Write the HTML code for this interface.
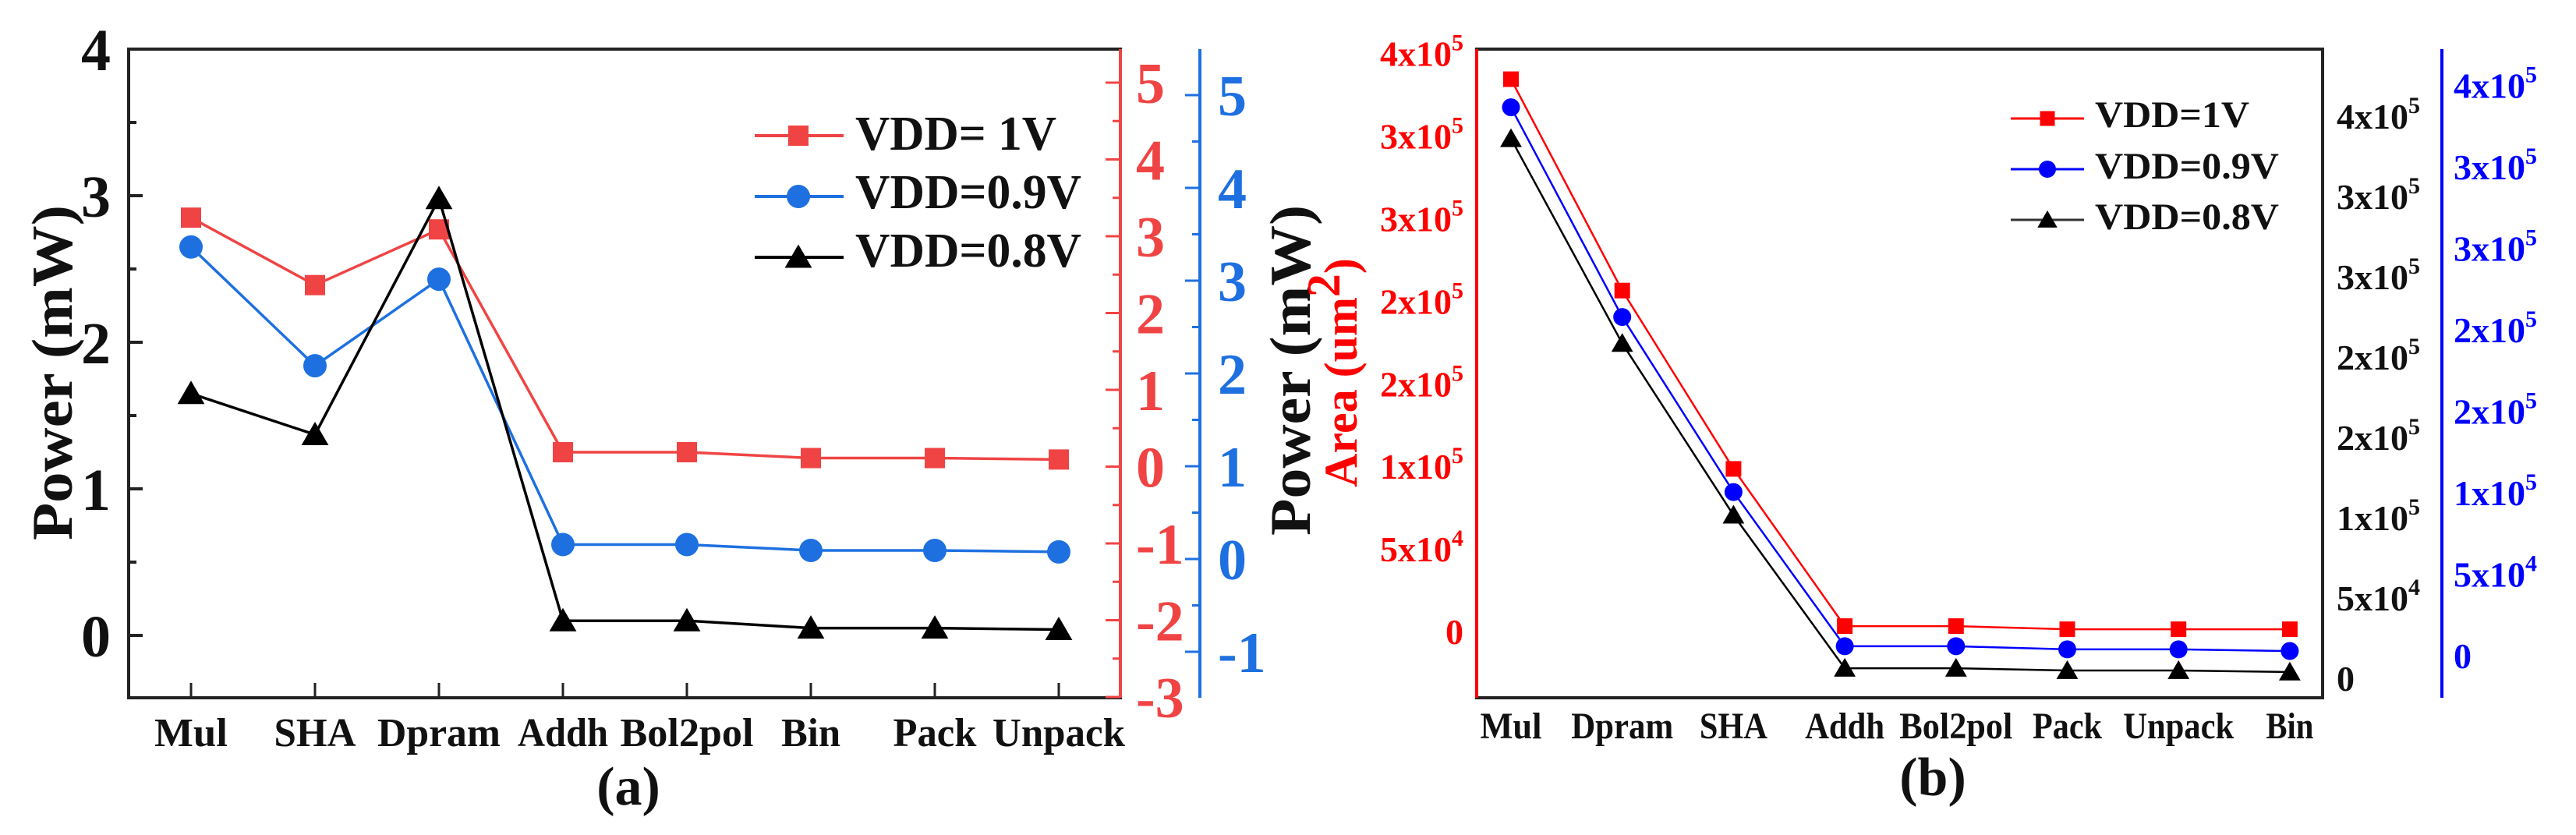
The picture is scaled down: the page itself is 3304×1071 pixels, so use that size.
<!DOCTYPE html>
<html><head><meta charset="utf-8"><style>
html,body{margin:0;padding:0;background:#fff;}
svg, svg text, svg tspan{font-family:"Liberation Serif","Times New Roman","DejaVu Serif",serif !important;font-weight:bold;}
</style></head><body>
<svg id="fig" width="3304" height="1066" viewBox="0 0 3304 1066" xmlns="http://www.w3.org/2000/svg" font-family="Liberation Serif, DejaVu Serif, serif" font-weight="bold">
<g id="pa"></g>
<g id="pb"></g>
</svg>
<script>
// ---------- Panel (a) data ----------
const catsA = ["Mul","SHA","Dpram","Addh","Bol2pol","Bin","Pack","Unpack"];
const powA1V = [2.85,2.39,2.77,1.25,1.25,1.21,1.21,1.20];
const powA09V = [2.65,1.84,2.43,0.62,0.62,0.58,0.58,0.57];
const powA08V = [1.65,1.37,2.98,0.10,0.10,0.05,0.05,0.04];
const leftTicksA = [0,1,2,3,4];
const redTicksA = [-3,-2,-1,0,1,2,3,4,5];
const blueTicksA = [-1,0,1,2,3,4,5];
// ---------- Panel (b) data ----------
const catsB = ["Mul","Dpram","SHA","Addh","Bol2pol","Pack","Unpack","Bin"];
const areaB1V = [334000,206000,98000,2800,2800,900,900,900];
const areaB09V = [317000,190000,84000,-9400,-9400,-11300,-11300,-12300];
const areaB08V = [298000,174000,70000,-22700,-22700,-24100,-24100,-25000];
const redTicksB = [0,50000,100000,150000,200000,250000,300000,350000];
const redLabelsB = [["0",""],["5x10","4"],["1x10","5"],["2x10","5"],["2x10","5"],["3x10","5"],["3x10","5"],["4x10","5"]];
const blackLabelsB = [["0",""],["5x10","4"],["1x10","5"],["2x10","5"],["2x10","5"],["3x10","5"],["3x10","5"],["4x10","5"]];
const blueLabelsB = [["0",""],["5x10","4"],["1x10","5"],["2x10","5"],["2x10","5"],["3x10","5"],["3x10","5"],["4x10","5"]];

// label text widths (layout, not data)
const lenA = {"Mul":94,"SHA":105,"Dpram":158,"Addh":116,"Bol2pol":171,"Bin":76,"Pack":107,"Unpack":170};
const lenB = {"Mul":79,"Dpram":131,"SHA":87,"Addh":102,"Bol2pol":145,"Pack":89,"Unpack":142,"Bin":61};

const NS="http://www.w3.org/2000/svg";
const FF="Liberation Serif, DejaVu Serif, serif";
function mk(parent,tag,attrs,text){const e=document.createElementNS(NS,tag);for(const k in attrs)e.setAttribute(k,attrs[k]);if(tag==='text'){e.setAttribute('font-family',FF);e.setAttribute('font-weight','bold');}if(text!==undefined)e.textContent=text;parent.appendChild(e);return e;}

// ---------- Panel (a) ----------
const pa=document.getElementById('pa');
const AL=165,AR=1437,AT=63,AB=895;
const xA=i=>245+i*159;
const yA=v=>815-v*188;
const yRed=v=>598.5-v*98.5;
const yBlue=v=>717-v*119;
const RA="#f04444",BA="#1e70e0";

let e;
e=mk(pa,'rect',{x:AL,y:AT,width:AR-AL,height:AB-AT,fill:'none',stroke:'#222','stroke-width':4});


e=mk(pa,'line',{x1:AR,y1:AT,x2:AR,y2:AB,stroke:RA,'stroke-width':4});


e=mk(pa,'line',{x1:1539,y1:AT,x2:1539,y2:AB,stroke:BA,'stroke-width':4});



leftTicksA.forEach(v=>{
  const y=yA(v);
  mk(pa,'line',{x1:AL,y1:y,x2:AL+18,y2:y,stroke:'#222','stroke-width':4});
  if(v<4) mk(pa,'line',{x1:AL,y1:yA(v+0.5),x2:AL+10,y2:yA(v+0.5),stroke:'#222','stroke-width':4});
  e=mk(pa,'text',{x:142,y:y+27,'text-anchor':'end','font-size':76,fill:'#111'},String(v));
  
  
});
redTicksA.forEach(v=>{
  const y=yRed(v);
  mk(pa,'line',{x1:AR-19,y1:y,x2:AR,y2:y,stroke:RA,'stroke-width':3});
  if(v<5) mk(pa,'line',{x1:AR-10,y1:yRed(v+0.5),x2:AR,y2:yRed(v+0.5),stroke:RA,'stroke-width':3});
  e=mk(pa,'text',{x:1457,y:y+26,'font-size':74,fill:RA},String(v));
  
  
});
blueTicksA.forEach(v=>{
  const y=yBlue(v);
  mk(pa,'line',{x1:1539-19,y1:y,x2:1539,y2:y,stroke:BA,'stroke-width':3});
  if(v<5) mk(pa,'line',{x1:1539-10,y1:yBlue(v+0.5),x2:1539,y2:yBlue(v+0.5),stroke:BA,'stroke-width':3});
  e=mk(pa,'text',{x:1562,y:y+26,'font-size':74,fill:BA},String(v));
  
  
});
catsA.forEach((c,i)=>{
  mk(pa,'line',{x1:xA(i),y1:AB,x2:xA(i),y2:AB-19,stroke:'#222','stroke-width':3});
  e=mk(pa,'text',{x:xA(i),y:957,'text-anchor':'middle','font-size':52,fill:'#111',textLength:lenA[c]||100,lengthAdjust:'spacingAndGlyphs'},c);
  
  
});
e=mk(pa,'text',{x:806,y:1032,'text-anchor':'middle','font-size':70,fill:'#111'},'(a)');


e=mk(pa,'text',{x:0,y:0,transform:'translate(92,478) rotate(-90)','text-anchor':'middle','font-size':74,fill:'#111',textLength:430,lengthAdjust:'spacingAndGlyphs'},'Power (mW)');


e=mk(pa,'text',{x:0,y:0,transform:'translate(1680,475) rotate(-90)','text-anchor':'middle','font-size':74,fill:'#111',textLength:424,lengthAdjust:'spacingAndGlyphs'},'Power (mW)');



function marker(g,type,x,y,col,s){
  let m;
  if(type==='sq') m=mk(g,'rect',{x:x-s/2,y:y-s/2,width:s,height:s,fill:col});
  else if(type==='ci') m=mk(g,'circle',{cx:x,cy:y,r:s/2,fill:col});
  else m=mk(g,'polygon',{points:`${x},${y-s*0.55} ${x-s*0.58},${y+s*0.45} ${x+s*0.58},${y+s*0.45}`,fill:col});
  return m;
}
function series(g,vals,xf,yf,col,type,s,lw,name){
  const sg=mk(g,'g',{});
  
  
  const pts=vals.map((v,i)=>xf(i)+','+yf(v)).join(' ');
  mk(sg,'polyline',{points:pts,fill:'none',stroke:col,'stroke-width':lw});
  vals.forEach((v,i)=>{
    const m=marker(sg,type,xf(i),yf(v),col,s);
    
    
  });
}
series(pa,powA1V,xA,yA,RA,'sq',26,3.5,'series-vdd-1v-a');
series(pa,powA09V,xA,yA,BA,'ci',30,3.5,'series-vdd-0.9v-a');
series(pa,powA08V,xA,yA,'#000','tr',30,3.5,'series-vdd-0.8v-a');

const legA=[["VDD= 1V",RA,'sq',174,192,258],["VDD=0.9V",BA,'ci',252,267,290],["VDD=0.8V",'#000','tr',330,342,290]];
legA.forEach(r=>{
  const lg=mk(pa,'g',{});
  
  
  mk(lg,'line',{x1:968,y1:r[3],x2:1082,y2:r[3],stroke:r[1],'stroke-width':4});
  marker(lg,r[2],1024,r[3],r[1],r[2]==='sq'?26:30);
  mk(lg,'text',{x:1097,y:r[4],'font-size':62,fill:'#111',textLength:r[5],lengthAdjust:'spacingAndGlyphs'},r[0]);
});

// ---------- Panel (b) ----------
const pb=document.getElementById('pb');
const BL=1894,BR=2979,BT=63,BB=895;
const xB=i=>1938+i*142.7;
const yB=v=>809-v/50000*105.9;

e=mk(pb,'rect',{x:BL,y:BT,width:BR-BL,height:BB-BT,fill:'none',stroke:'#222','stroke-width':4});


e=mk(pb,'line',{x1:BL,y1:BT,x2:BL,y2:BB,stroke:'#ff0000','stroke-width':4});


e=mk(pb,'line',{x1:3132,y1:BT,x2:3132,y2:BB,stroke:'#0000ff','stroke-width':4});



function supLabel(g,x,y,lab,col,anchor){
  const t=mk(g,'text',{x:x,y:y,'font-size':46,fill:col,'text-anchor':anchor});
  const a=document.createElementNS(NS,'tspan');a.textContent=lab[0];t.appendChild(a);
  if(lab[1]){const s=document.createElementNS(NS,'tspan');s.setAttribute('font-size','30');s.setAttribute('dy','-20');s.textContent=lab[1];t.appendChild(s);}
  return t;
}
redTicksB.forEach((v,i)=>{
  e=supLabel(pb,1877,yB(v)+17,redLabelsB[i],'#ff0000','end');
  
  
});
blackLabelsB.forEach((lab,i)=>{
  e=supLabel(pb,2997,886-i*103,lab,'#111','start');
  
  
});
blueLabelsB.forEach((lab,i)=>{
  e=supLabel(pb,3147,857-i*104.5,lab,'#0000ff','start');
  
  
});
catsB.forEach((c,i)=>{
  e=mk(pb,'text',{x:xB(i),y:947,'text-anchor':'middle','font-size':48,fill:'#111',textLength:lenB[c]||90,lengthAdjust:'spacingAndGlyphs'},c);
  
  
});
e=mk(pb,'text',{x:2479,y:1020,'text-anchor':'middle','font-size':70,fill:'#111'},'(b)');


e=mk(pb,'text',{x:0,y:0,transform:'translate(1740,478) rotate(-90)','text-anchor':'middle','font-size':60,fill:'#ff0000'});


(function(){const a=document.createElementNS(NS,'tspan');a.textContent='Area (um';e.appendChild(a);
const s=document.createElementNS(NS,'tspan');s.setAttribute('dy','-22');s.textContent='2';e.appendChild(s);
const c=document.createElementNS(NS,'tspan');c.setAttribute('dy','22');c.textContent=')';e.appendChild(c);})();

series(pb,areaB1V,xB,yB,'#ff0000','sq',20,2.5,'series-vdd-1v-b');
series(pb,areaB09V,xB,yB,'#0000ff','ci',23,2.5,'series-vdd-0.9v-b');
series(pb,areaB08V,xB,yB,'#000','tr',24,2.5,'series-vdd-0.8v-b');

const legB=[["VDD=1V",'#ff0000','sq',152,163,198],["VDD=0.9V",'#0000ff','ci',217,229,236],["VDD=0.8V",'#000','tr',282,294,236]];
legB.forEach(r=>{
  const lg=mk(pb,'g',{});
  
  
  mk(lg,'line',{x1:2579,y1:r[3],x2:2673,y2:r[3],stroke:r[1]==='#000'?'#333':r[1],'stroke-width':3});
  marker(lg,r[2],2626,r[3],r[1],r[2]==='sq'?19:22);
  mk(lg,'text',{x:2687,y:r[4],'font-size':48,fill:'#111',textLength:r[5],lengthAdjust:'spacingAndGlyphs'},r[0]);
});
</script>
</body></html>
